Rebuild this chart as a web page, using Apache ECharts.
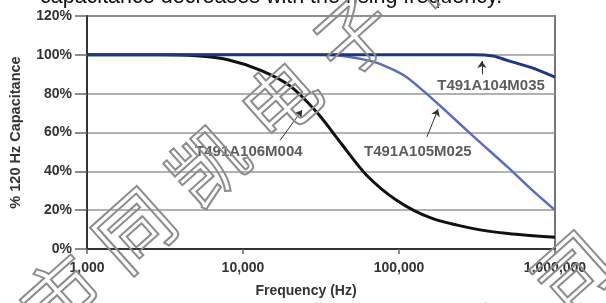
<!DOCTYPE html>
<html>
<head>
<meta charset="utf-8">
<script src="https://cdn.jsdelivr.net/npm/echarts@6/dist/echarts.min.js"></script>
<style>
html, body { margin: 0; padding: 0; background: #fff; }
#chart { width: 606px; height: 303px; }
</style>
</head>
<body>
<div id="chart"></div>
<script>
'use strict';

// 坐标刻度
var capTicks = [0, 20, 40, 60, 80, 100, 120];

// T491A104M035
var freq104 = [1000, 300000, 400000, 500000, 700000, 1000000];
var cap104 = [100, 100, 99.4, 97, 93.5, 88.5];

// T491A105M025
var freq105 = [1000, 30000, 45000, 68000, 88000, 112000, 150000, 200000, 300000, 500000, 700000, 1000000];
var cap105 = [100, 100, 99.3, 96.5, 93, 88.5, 80, 71, 58, 42, 31, 20];

// T491A106M004
var freq106 = [1000, 3000, 5000, 8000, 13000, 20000, 30000, 42000, 62000, 97000, 160000, 300000, 500000, 1000000];
var cap106 = [100, 100, 99.5, 97.5, 92, 84, 70, 55, 38, 25, 16, 10.5, 8, 6];

// 标注：文字位置和箭头（数据坐标）
var noteNames = ['T491A104M035', 'T491A105M025', 'T491A106M004'];
var noteAt = [[389000, 84], [132000, 50], [10900, 50]];
var arrowFrom = [[340000, 90], [151000, 57.7], [17300, 56]];
var arrowTo = [[340000, 96.8], [178000, 72], [23900, 71.5]];

var titleText = 'capacitance decreases with the rising frequency.';
var watermark = '深圳市同凯电子有限公司';

function pairs(xs, ys) {
    return xs.map(function (x, i) { return [x, ys[i]]; });
}

function arrow(i) {
    return [[{coord: arrowFrom[i]}, {coord: arrowTo[i]}]];
}

var font = 'Liberation Sans, Arial, sans-serif';

var chart = echarts.init(document.getElementById('chart'));

// 水印文字
var marks = [];
function addLine(x0, y0) {
    for (var i = 0; i < watermark.length; i++) {
        marks.push({
            type: 'text',
            x: x0 + i * 73,
            y: y0 - i * 65,
            rotation: 0.73,
            z: 100,
            silent: true,
            style: {
                text: watermark.charAt(i),
                fontSize: 76,
                fontFamily: 'Noto Sans CJK SC',
                fill: 'rgba(255,255,255,0)',
                stroke: '#8c8c8c',
                lineWidth: 2,
                align: 'center',
                verticalAlign: 'middle'
            }
        });
    }
}
addLine(134 - 3 * 73, 230 + 3 * 65);
addLine(572 - 10 * 73, 272 + 10 * 65);

marks.push({
    type: 'text',
    x: 40,
    y: 8,
    z: 50,
    style: {
        text: titleText,
        fontSize: 21.5,
        fontFamily: font,
        fill: '#111',
        align: 'left',
        verticalAlign: 'bottom'
    }
});

var arrowStyle = {
    silent: true,
    symbol: ['none', 'arrow'],
    symbolSize: 7,
    lineStyle: {color: '#333', width: 1, type: 'solid'},
    label: {show: false},
    emphasis: {disabled: true}
};

chart.setOption({
    animation: false,
    backgroundColor: '#fff',
    grid: {
        left: 87, right: 51, top: 16, bottom: 54,
        show: true,
        borderColor: '#777',
        borderWidth: 2,
        backgroundColor: '#fff'
    },
    xAxis: {
        type: 'log',
        logBase: 10,
        min: 1000,
        max: 1000000,
        name: 'Frequency (Hz)',
        nameLocation: 'middle',
        nameGap: 35,
        nameTextStyle: {fontSize: 14, fontWeight: 'bold', color: '#333', fontFamily: font, padding: [0, 30, 0, 0]},
        axisLine: {lineStyle: {color: '#333', width: 2}},
        axisTick: {length: 5, lineStyle: {color: '#666', width: 1.5}},
        minorTick: {show: false},
        splitLine: {show: false},
        axisLabel: {
            margin: 12,
            fontSize: 14,
            fontWeight: 'bold',
            color: '#333',
            fontFamily: font,
            formatter: function (v) { return Math.round(v).toLocaleString('en-US'); }
        }
    },
    yAxis: {
        type: 'value',
        min: capTicks[0],
        max: capTicks[capTicks.length - 1],
        interval: 20,
        name: '% 120 Hz Capacitance',
        nameLocation: 'middle',
        nameRotate: 90,
        nameGap: 64,
        nameTextStyle: {fontSize: 14.5, fontWeight: 'bold', color: '#333', fontFamily: font},
        axisLine: {show: true, lineStyle: {color: '#333', width: 2}},
        axisTick: {show: true, length: 12, lineStyle: {color: '#666', width: 1.5}},
        splitLine: {lineStyle: {color: '#999', width: 1.5}},
        axisLabel: {
            margin: 15,
            fontSize: 14,
            fontWeight: 'bold',
            color: '#333',
            fontFamily: font,
            formatter: '{value}%'
        }
    },
    graphic: marks,
    series: [
        {
            name: 'T491A106M004',
            type: 'line',
            data: pairs(freq106, cap106),
            smooth: 0.3,
            showSymbol: false,
            lineStyle: {color: '#111', width: 3},
            markLine: Object.assign({data: arrow(2)}, arrowStyle)
        },
        {
            name: 'T491A105M025',
            type: 'line',
            data: pairs(freq105, cap105),
            smooth: 0.3,
            showSymbol: false,
            lineStyle: {color: '#5b6cbd', width: 2.5},
            markLine: Object.assign({data: arrow(1)}, arrowStyle)
        },
        {
            name: 'T491A104M035',
            type: 'line',
            data: pairs(freq104, cap104),
            smooth: 0.3,
            showSymbol: false,
            lineStyle: {color: '#1d3880', width: 3},
            markLine: Object.assign({data: arrow(0)}, arrowStyle)
        },
        {
            name: 'notes',
            type: 'scatter',
            symbolSize: 1,
            itemStyle: {color: 'rgba(0,0,0,0)'},
            silent: true,
            data: noteAt.map(function (p, i) { return {value: p, name: noteNames[i]}; }),
            label: {
                show: true,
                position: 'inside',
                formatter: '{b}',
                fontSize: 15,
                fontWeight: 'bold',
                color: '#333',
                fontFamily: font
            }
        }
    ]
});
</script>
</body>
</html>
